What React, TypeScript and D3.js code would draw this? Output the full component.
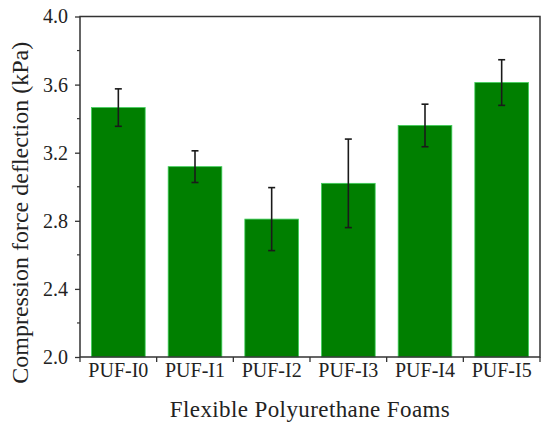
import React, { useRef, useEffect } from 'react';
import * as d3 from 'd3';

const categories = ['PUF-I0', 'PUF-I1', 'PUF-I2', 'PUF-I3', 'PUF-I4', 'PUF-I5'];
const means = [3.465, 3.118, 2.81, 3.02, 3.36, 3.612];
const errors = [0.11, 0.093, 0.185, 0.26, 0.125, 0.134];
const yTicks = [2.0, 2.4, 2.8, 3.2, 3.6, 4.0];
const yMinorTicks = [2.2, 2.6, 3.0, 3.4, 3.8];

const FONT = 'Liberation Serif';

function App(): React.ReactElement {
    const ref = useRef<SVGSVGElement | null>(null);

    useEffect(() => {
        if (!ref.current) return;
        const width = 550;
        const height = 428;
        const margin = { top: 16.5, right: 10, bottom: 71, left: 80 };

        const svg = d3.select(ref.current);
        svg.selectAll('*').remove();

        const x = d3
            .scaleBand<string>()
            .domain(categories)
            .range([margin.left, width - margin.right])
            .paddingInner(0.3)
            .paddingOuter(0.15);

        const y = d3
            .scaleLinear()
            .domain([2.0, 4.0])
            .range([height - margin.bottom, margin.top]);

        const data = categories.map((c, i) => ({ c, v: means[i], e: errors[i] }));

        // bars
        svg.append('g')
            .selectAll('rect')
            .data(data)
            .join('rect')
            .attr('x', d => x(d.c)!)
            .attr('y', d => y(d.v))
            .attr('width', x.bandwidth())
            .attr('height', d => y(2.0) - y(d.v))
            .attr('fill', '#007f00')
            .attr('stroke', '#3fcf5a')
            .attr('stroke-width', 0.8);

        // error bars
        const eb = svg.append('g')
            .attr('stroke', '#1a1a1a')
            .attr('stroke-width', 1.6);
        const cap = 3.5;
        data.forEach(d => {
            const cx = x(d.c)! + x.bandwidth() / 2;
            eb.append('line')
                .attr('x1', cx).attr('x2', cx)
                .attr('y1', y(d.v + d.e)).attr('y2', y(d.v - d.e));
            eb.append('line')
                .attr('x1', cx - cap).attr('x2', cx + cap)
                .attr('y1', y(d.v + d.e)).attr('y2', y(d.v + d.e));
            eb.append('line')
                .attr('x1', cx - cap).attr('x2', cx + cap)
                .attr('y1', y(d.v - d.e)).attr('y2', y(d.v - d.e));
        });

        const axisColor = '#333';
        const x0 = margin.left;
        const x1 = width - margin.right;
        const y0 = y(2.0);
        const y1 = y(4.0);

        // frame
        svg.append('path')
            .attr('d', `M${x0},${y0}V${y1}H${x1}V${y0}Z`)
            .attr('fill', 'none')
            .attr('stroke', axisColor)
            .attr('stroke-width', 1.5);

        // y axis
        const yAxis = svg.append('g').attr('transform', `translate(${x0},0)`);
        yAxis.call(
            d3.axisLeft(y)
                .tickValues(yTicks)
                .tickSize(5)
                .tickPadding(7)
                .tickFormat(d3.format('.1f') as any)
        );
        yAxis.attr('font-family', FONT).attr('font-size', 20);
        yAxis.select('.domain').remove();
        yAxis.selectAll('line').attr('stroke', axisColor).attr('stroke-width', 1.3);
        yAxis.selectAll('text').attr('fill', '#222');

        svg.append('g')
            .selectAll('line')
            .data(yMinorTicks)
            .join('line')
            .attr('x1', x0 - 3)
            .attr('x2', x0)
            .attr('y1', d => y(d))
            .attr('y2', d => y(d))
            .attr('stroke', axisColor)
            .attr('stroke-width', 1.2);

        // x axis: labels at centers, ticks at band boundaries
        const step = x.step();
        const bounds = d3.range(categories.length + 1).map(i => x0 + i * step);
        svg.append('g')
            .selectAll('line')
            .data(bounds)
            .join('line')
            .attr('x1', d => d)
            .attr('x2', d => d)
            .attr('y1', y0)
            .attr('y2', y0 + 5)
            .attr('stroke', axisColor)
            .attr('stroke-width', 1.3);

        svg.append('g')
            .attr('font-family', FONT)
            .attr('font-size', 20)
            .selectAll('text')
            .data(categories)
            .join('text')
            .attr('x', d => x(d)! + x.bandwidth() / 2)
            .attr('y', y0 + 20)
            .attr('text-anchor', 'middle')
            .attr('fill', '#222')
            .text(d => d);

        // axis titles
        svg.append('text')
            .attr('x', (x0 + x1) / 2)
            .attr('y', 417)
            .attr('text-anchor', 'middle')
            .attr('fill', '#222')
            .attr('font-family', FONT)
            .attr('font-size', 23)
            .attr('letter-spacing', 0.4)
            .text('Flexible Polyurethane Foams');

        svg.append('text')
            .attr('transform', `translate(28,${(y0 + y1) / 2 + 26}) rotate(-90)`)
            .attr('text-anchor', 'middle')
            .attr('fill', '#222')
            .attr('font-family', FONT)
            .attr('font-size', 24)
            .text('Compression force deflection (kPa)');
    }, []);

    return (
        <svg
            ref={ref}
            width={550}
            height={428}
            style={{ position: 'absolute', left: 0, top: 0, background: '#fff' }}
        />
    );
}

export default App;
